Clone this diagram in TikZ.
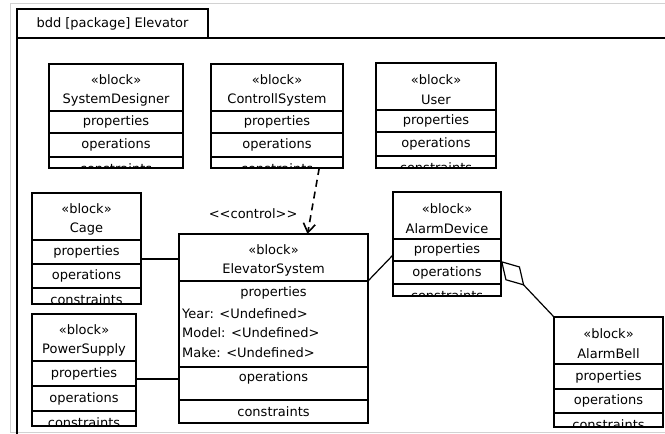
\documentclass[tikz,border=0pt]{standalone}
\usepackage{fontspec}
\setmainfont{DejaVu Sans}
\usetikzlibrary{positioning, calc, arrows.meta}

\newcommand{\umlblock}[8]{%
  \node[hdr, minimum width=#4pt] (#1) at (#2,#3) {};
  \node[align=center, inner sep=0pt] (#1-t) at ([yshift=-3pt]#1.center) {«block»\\#5};
  \node[cmp, minimum width=#4pt, minimum height=#6pt, below=0pt of #1] (#1-p) {properties};
  \node[cmp, minimum width=#4pt, minimum height=#7pt, below=0pt of #1-p] (#1-o) {operations};
  \node[cmp, minimum width=#4pt, minimum height=#8pt, below=0pt of #1-o] (#1-c) {};
  \begin{scope}
    \clip (#1-c.south west) rectangle (#1-c.north east);
    \node (#1-ct) at ([yshift=-11.5pt]#1-c.north) {constraints};
  \end{scope}
  \draw[line width=1.2pt] (#1-c.south west) -- (#1-c.south east);
}

\begin{document}
\begin{tikzpicture}[x=1pt, y=-1pt,
    every node/.style={font=\fontsize{13}{19.5}\selectfont},
    hdr/.style={draw, line width=1.2pt, inner sep=0pt, outer sep=0pt,
      anchor=north west, minimum height=47pt},
    cmp/.style={draw, line width=1.2pt, inner sep=0pt, outer sep=0pt},
    assoc/.style={line width=1.2pt}]
    \useasboundingbox (0,0) rectangle (665,434);
    \draw[gray!35] (665,3) -- (10,3) -- (10,432) -- (665,432);

    % frame
    \node[draw, line width=1.2pt, inner sep=0pt, outer sep=0pt, anchor=north west,
      minimum width=191pt, minimum height=29pt] (tab) at (17,9) {bdd [package] Elevator};
    \draw[line width=1.2pt] (tab.south west) -- (17,434);
    \draw[line width=1.2pt] (tab.south east) -- (665,38);

    \umlblock{sd}{49}{64}{134}{SystemDesigner}{22}{24}{11}
    \umlblock{cs}{211}{64}{132}{ControllSystem}{22}{24}{11}
    \umlblock{usr}{376}{63}{120}{User}{22}{24}{12}
    \umlblock{cage}{32}{193}{109}{Cage}{24}{24}{16}
    \umlblock{ps}{32}{314}{104}{PowerSupply}{25}{25}{15}
    \umlblock{ad}{393}{192}{108}{AlarmDevice}{22}{23}{12}
    \umlblock{ab}{554}{317}{109}{AlarmBell}{25}{24}{14}

    % ElevatorSystem
    \node[hdr, minimum width=189pt] (es) at (179,234) {};
    \node[align=center, inner sep=0pt] (es-t) at ([yshift=-3pt]es.center) {«block»\\ElevatorSystem};
    \node[cmp, minimum width=189pt, minimum height=86pt, below=0pt of es] (es-p) {};
    \node (es-pt) at ([yshift=-12pt]es-p.north) {properties};
    \node[anchor=west, inner sep=0pt] (es-yr) at ([xshift=3pt, yshift=-33pt]es-p.north west) {Year: <Undefined>};
    \node[anchor=west, inner sep=0pt] (es-mdl) at ([xshift=3pt, yshift=-52pt]es-p.north west) {Model: <Undefined>};
    \node[anchor=west, inner sep=0pt] (es-mk) at ([xshift=3pt, yshift=-72pt]es-p.north west) {Make: <Undefined>};
    \node[cmp, minimum width=189pt, minimum height=33pt, below=0pt of es-p] (es-o) {};
    \node (es-ot) at ([yshift=-11pt]es-o.north) {operations};
    \node[cmp, minimum width=189pt, minimum height=23pt, below=0pt of es-o] (es-c) {constraints};

    % connectors
    \draw[assoc] ([yshift=-7pt]cage-p.east) -- ([yshift=-7pt]cage-p.east -| es.west);
    \draw[assoc] ([yshift=-5.5pt]ps-p.east) -- ([yshift=-5.5pt]ps-p.east -| es.west);
    \draw[assoc] (es.south east) -- ([yshift=-5pt]ad-p.west);
    \draw[assoc, {Diamond[open, length=34pt, width=20pt]}-] (ad-o.north east) -- (ab.north west);
    \draw[line width=1.6pt, dash pattern=on 7pt off 5pt, -{Straight Barb[length=9pt, width=12pt]}]
      ($(cs-c.south west)!0.82!(cs-c.south east)$) -- ($(es.north west)!0.68!(es.north east)$);
    \node[anchor=east] (ctl) at (301,214) {<\kern0pt<control>\kern0pt>};
\end{tikzpicture}
\end{document}
